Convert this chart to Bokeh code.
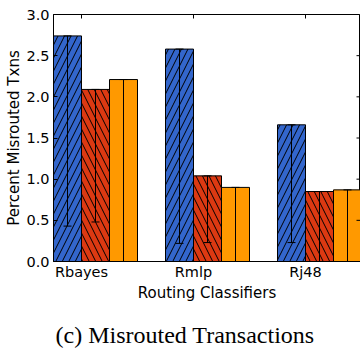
import math
from bokeh.plotting import figure
from bokeh.models import Range1d, FixedTicker, ColumnDataSource, Title, NumeralTickFormatter
from bokeh.embed import file_html
from bokeh.resources import INLINE

categories = ["Rbayes", "Rmlp", "Rj48"]
series_colors = ["#3366cc", "#dc3912", "#ff9900"]
series_hatch = ["/", "\\", " "]
values_s1 = [2.74, 2.58, 1.66]
values_s2 = [2.09, 1.04, 0.85]
values_s3 = [2.21, 0.90, 0.87]
lower_s1 = [0.43, 0.22, 0.23]
lower_s2 = [0.48, 0.23, -0.10]
lower_s3 = [-0.10, -0.10, -0.10]
y_ticks = [0.0, 0.5, 1.0, 1.5, 2.0, 2.5, 3.0]
caption = "(c) Misrouted Transactions"

all_values = [values_s1, values_s2, values_s3]
all_lower = [lower_s1, lower_s2, lower_s3]
bar_w = 0.25
x_end = 2.741
y_end = 3.0

FONT = "DejaVu Sans"

p = figure(width=360, height=348, x_range=Range1d(0, x_end), y_range=Range1d(0, y_end),
           output_backend="svg", toolbar_location=None,
           min_border_left=53, min_border_right=0, min_border_top=14, min_border_bottom=86)

p.xgrid.visible = False
p.ygrid.visible = False
p.outline_line_color = "black"
p.outline_line_width = 1
p.background_fill_color = "white"
p.border_fill_color = "white"

tick_pos = [i + bar_w for i in range(len(categories))]

for k in range(3):
    xs = [i + bar_w * k + bar_w / 2 for i in range(len(categories))]
    src = ColumnDataSource(dict(x=xs, top=all_values[k], lower=all_lower[k]))
    p.vbar(x="x", top="top", width=bar_w, bottom=0, source=src,
           fill_color=series_colors[k], line_color="black", line_width=1,
           hatch_pattern=series_hatch[k], hatch_color="black", hatch_scale=13,
           hatch_weight=1)
    # one-sided (lower) error bars with caps
    p.segment(x0="x", y0="lower", x1="x", y1="top", source=src,
              line_color="black", line_width=1)
    p.scatter(x="x", y="lower", source=src, marker="dash", size=8,
              line_color="black", line_width=1)
    p.scatter(x="x", y="top", source=src, marker="dash", size=8,
              line_color="black", line_width=1)

# inward ticks on the top and right spines (clipped halves of dashes)
p.scatter(x=tick_pos, y=[y_end] * len(tick_pos), marker="dash", angle=math.pi / 2,
          size=8, line_color="black", line_width=1)
p.scatter(x=[x_end] * len(y_ticks), y=y_ticks, marker="dash",
          size=8, line_color="black", line_width=1)

xa = p.xaxis[0]
xa.ticker = FixedTicker(ticks=tick_pos)
xa.major_label_overrides = {tick_pos[i]: categories[i] for i in range(len(categories))}
# trailing empty line leaves room between the axis title and the caption
xa.axis_label = "Routing Classifiers\n"

ya = p.yaxis[0]
ya.ticker = FixedTicker(ticks=y_ticks)
ya.axis_label = "Percent Misrouted Txns"
ya.formatter = NumeralTickFormatter(format="0.0")

for ax in (xa, ya):
    ax.major_tick_in = 4
    ax.major_tick_out = 0
    ax.minor_tick_in = 0
    ax.minor_tick_out = 0
    ax.axis_line_color = "black"
    ax.major_tick_line_color = "black"
    ax.major_label_text_font = FONT
    ax.major_label_text_font_size = "14.5px"
    ax.major_label_text_color = "black"
    ax.axis_label_text_font = FONT
    ax.axis_label_text_font_size = "15px"
    ax.axis_label_text_font_style = "normal"
    ax.axis_label_text_color = "black"

xa.axis_label_text_line_height = 0.75
xa.major_label_standoff = 2
xa.axis_label_standoff = 1
ya.major_label_standoff = 4
ya.axis_label_standoff = 0

cap = Title(text=caption, align="left", offset=2,
            text_font="Liberation Serif", text_font_size="24px",
            text_font_style="normal", text_color="black", standoff=2)
p.add_layout(cap, "below")

open("out.html", "w").write(file_html(p, INLINE))
